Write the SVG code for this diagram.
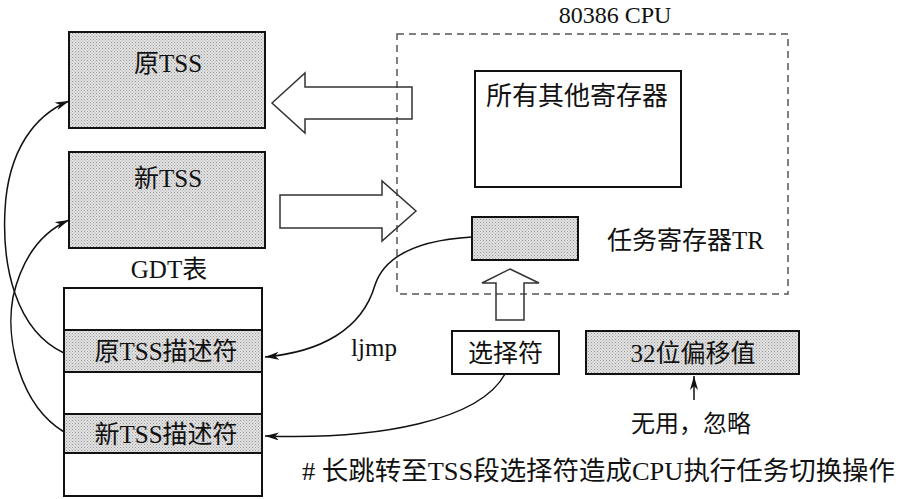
<svg xmlns="http://www.w3.org/2000/svg" width="900" height="499" viewBox="0 0 900 499">
<style>
  .t { font-family: "Liberation Serif", "Noto Sans CJK SC", serif; fill: #111; }
  .box { stroke: #111; stroke-width: 2; }
  .gray { fill: #d2d2d2; }
  .white { fill: #fff; }
  .hollow { fill: none; stroke: #333; stroke-width: 1.5; stroke-linejoin: miter; }
  .curve { fill: none; stroke: #111; stroke-width: 1.5; }
</style>
<defs>
  <pattern id="dots" width="3" height="3" patternUnits="userSpaceOnUse">
    <rect width="3" height="3" fill="#e2e2e2"/>
    <rect width="1" height="1" fill="#9a9a9a"/>
    <rect x="1.5" y="1.5" width="1" height="1" fill="#aaaaaa"/>
  </pattern>
  <marker id="ah" markerUnits="userSpaceOnUse" markerWidth="16" markerHeight="10" refX="14" refY="4" orient="auto">
    <path d="M0,0 L14,4 L0,8 L4,4 Z" fill="#111"/>
  </marker>
</defs>
<rect width="900" height="499" fill="#fff"/>

<g id="title-cpu"><text class="t" x="615" y="23" font-size="24" text-anchor="middle">80386 CPU</text></g>

<g id="cpu-box"><rect x="397" y="34" width="391" height="260" fill="none" stroke="#555" stroke-width="1.5" stroke-dasharray="7,5"/></g>

<g id="old-tss">
  <rect class="box" x="69" y="32" width="196" height="96" fill="url(#dots)"/>
  <text class="t" x="168" y="72" font-size="25" text-anchor="middle">原TSS</text>
</g>
<g id="new-tss">
  <rect class="box" x="69" y="152" width="196" height="96" fill="url(#dots)"/>
  <text class="t" x="168" y="187" font-size="25" text-anchor="middle">新TSS</text>
</g>

<g id="other-regs">
  <rect class="box white" x="475" y="71" width="206" height="116"/>
  <text class="t" x="577" y="105" font-size="26" text-anchor="middle">所有其他寄存器</text>
</g>

<g id="tr">
  <rect class="box" x="472" y="217" width="106" height="43" fill="url(#dots)"/>
</g>
<g id="tr-label"><text class="t" x="607" y="249" font-size="25">任务寄存器TR</text></g>

<g id="gdt-label"><text class="t" x="169" y="278" font-size="25" text-anchor="middle">GDT表</text></g>
<g id="gdt">
  <rect class="box white" x="64" y="288" width="198" height="42"/>
  <rect class="box" x="64" y="330" width="198" height="42" fill="url(#dots)"/>
  <rect class="box white" x="64" y="372" width="198" height="42"/>
  <rect class="box" x="64" y="414" width="198" height="39" fill="url(#dots)"/>
  <rect class="box white" x="64" y="453" width="198" height="43"/>
</g>
<g id="old-desc"><text class="t" x="166" y="360" font-size="25" text-anchor="middle">原TSS描述符</text></g>
<g id="new-desc"><text class="t" x="166" y="443" font-size="25" text-anchor="middle">新TSS描述符</text></g>

<g id="selector">
  <rect class="box white" x="452" y="331" width="107" height="43"/>
  <text class="t" x="505.5" y="362" font-size="25" text-anchor="middle">选择符</text>
</g>
<g id="offset">
  <rect class="box" x="586" y="331" width="213" height="43" fill="url(#dots)"/>
  <text class="t" x="693" y="362" font-size="25" text-anchor="middle">32位偏移值</text>
</g>

<g id="ljmp-label"><text class="t" x="374" y="356" font-size="25" text-anchor="middle">ljmp</text></g>
<g id="ignore-label"><text class="t" x="691" y="432" font-size="24" text-anchor="middle">无用，忽略</text></g>
<g id="caption"><text class="t" x="302" y="480" font-size="26" textLength="593" lengthAdjust="spacingAndGlyphs"># 长跳转至TSS段选择符造成CPU执行任务切换操作</text></g>

<g id="connectors">
  <polygon class="hollow" points="272,103 305,73 305,87 412,87 412,119 305,119 305,133"/>
  <polygon class="hollow" points="280,195 382,195 382,181 416,211 382,241 382,228 280,228"/>
  <polygon class="hollow" points="510,269 539,283 524,283 524,320 496,320 496,283 482,283"/>
  <path class="curve" d="M472,237 C420,240 385,255 375,285 C362,330 320,352 265,357" marker-end="url(#ah)"/>
  <path class="curve" d="M505,374 C480,420 380,440 265,436" marker-end="url(#ah)"/>
  <path class="curve" d="M64,353 C15,330 2,265 5,210 C8,150 35,115 69,101" marker-end="url(#ah)"/>
  <path class="curve" d="M64,432 C20,405 5,340 13,297 C22,258 42,232 69,220" marker-end="url(#ah)"/>
  <path class="curve" d="M694,400 L694,376" marker-end="url(#ah)"/>
</g>
</svg>
